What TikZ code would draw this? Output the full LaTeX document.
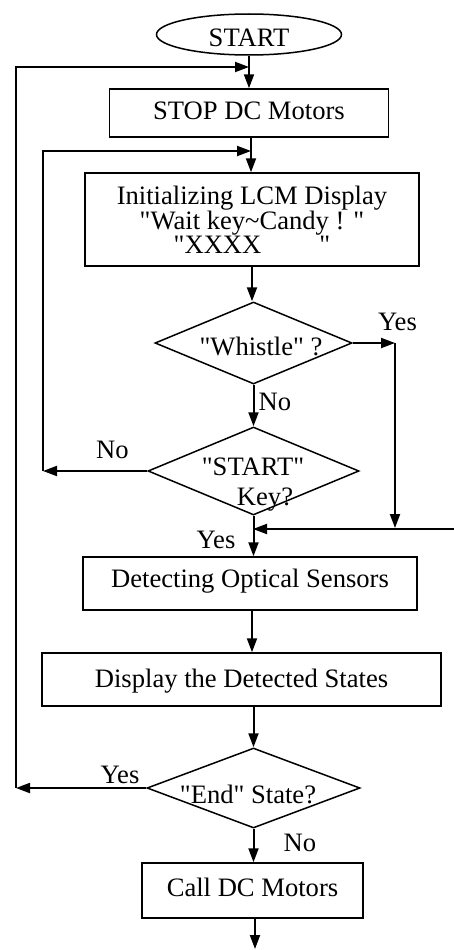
\documentclass[tikz,border=0pt]{standalone}
\usepackage{fontspec}
\newfontfamily\timesf{Liberation Serif}
\usetikzlibrary{shapes.geometric,arrows.meta}
\begin{document}
\begin{tikzpicture}[x=1pt,y=-1pt,
  every node/.style={font=\timesf\fontsize{26.6}{24}\selectfont, inner sep=0pt},
  box/.style={draw, line width=1.5pt, rectangle, text height=18.6pt, text depth=6.6pt},
  mbox/.style={draw, line width=1.5pt, rectangle, align=center},
  dec/.style={draw, line width=1.5pt, diamond},
  term/.style={draw, line width=1.5pt, ellipse, text height=18.6pt, text depth=6.6pt},
  lbl/.style={anchor=base},
  arr/.style={line width=2pt, -{Triangle[length=14pt,width=10pt]}}]
\useasboundingbox (0,0) rectangle (454,950);
% nodes
\node[term, minimum width=185pt, minimum height=41pt] (start) at (249,34.5) {\raisebox{-6pt}{START}};
\node[box, minimum width=279pt, minimum height=48pt] (stop) at (249,113) {STOP DC Motors};
\node[mbox, minimum width=334pt, minimum height=93pt] (init) at (252,219.5)
  {Initializing LCM Display\\"Wait key\char"7E Candy ! "\\"XXXX\hspace{58pt}"};
\node[dec, minimum width=197pt, minimum height=82pt] (whistle) at (253.5,343) {};
\node[dec, minimum width=211pt, minimum height=88pt] (key) at (253.5,471) {};
\node[box, minimum width=334pt, minimum height=53pt] (detect) at (250,583.5) {\raisebox{2pt}{Detecting Optical Sensors}};
\node[box, minimum width=399pt, minimum height=53pt] (display) at (241.5,679.5) {\raisebox{-2pt}{Display the Detected States}};
\node[dec, minimum width=213pt, minimum height=80pt] (endst) at (253.5,788) {};
\node[box, minimum width=221pt, minimum height=55pt] (call) at (252.5,890.5) {Call DC Motors};
% texts in decisions and labels
\node[lbl] (wtxt) at (261,355) {"Whistle" ?};
\node[lbl] (ktxta) at (253,475) {"START"};
\node[lbl] (ktxtb) at (265,505) {Key?};
\node[lbl] (etxt) at (248,803) {"End" State?};
\node[lbl] (yes1) at (397.5,330) {Yes};
\node[lbl] (no1) at (275,410) {No};
\node[lbl] (no2) at (112.5,458) {No};
\node[lbl] (yes2) at (216,548) {Yes};
\node[lbl] (yes3) at (120,783) {Yes};
\node[lbl] (no3) at (300,851) {No};
% coordinates
\coordinate (j1) at (249,67);
\coordinate (c1t) at (16,67);
\coordinate (c1b) at (16,788);
\coordinate (j2) at (251,151);
\coordinate (c2t) at (43,151);
\coordinate (w1) at (395,343);
\coordinate (w2) at (395,528);
\coordinate (rin) at (454,529);
\coordinate (j3) at (253,529);
\coordinate (out) at (255,949);
% connectors
\draw[arr] (start.south) -- (stop.north);
\draw[arr] (c1b) -- (c1t) -- (j1);
\draw[arr] (stop.south -| j2) -- (init.north -| j2);
\draw[arr] (key.west -| c2t) -- (c2t) -- (j2);
\draw[arr] (init.south) -- (init.south |- whistle.north);
\draw[arr] (whistle.east) -- (w1);
\draw[arr] (w1) -- (w2);
\draw[arr] (rin) -- (j3);
\draw[arr] (whistle.south) -- (key.north);
\draw[arr] (key.west) -- (key.west -| c2t);
\draw[arr] (key.south) -- (key.south |- detect.north);
\draw[arr] (detect.south -| init.south) -- (display.north -| init.south);
\draw[arr] (endst.north |- display.south) -- (endst.north);
\draw[arr] (endst.west) -- (c1b);
\draw[arr] (endst.south) -- (endst.south |- call.north);
\draw[arr] (call.south -| out) -- (out);
\end{tikzpicture}
\end{document}
